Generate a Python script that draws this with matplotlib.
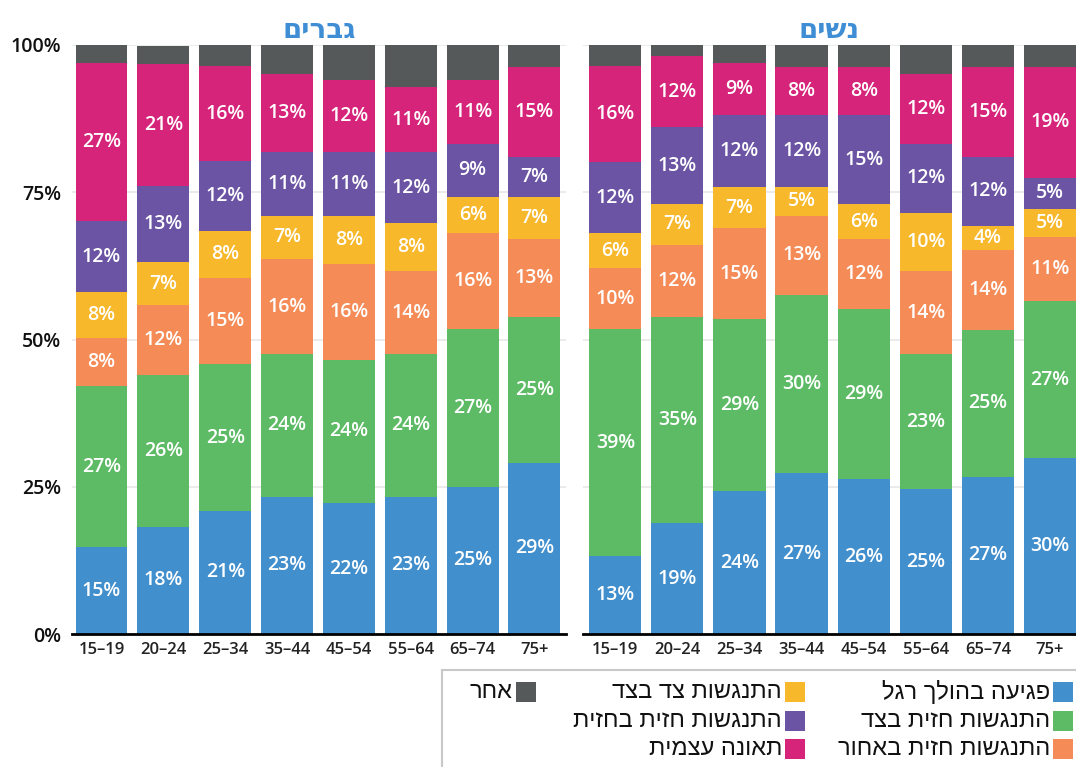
import numpy as np
import matplotlib
matplotlib.use("Agg")
import matplotlib.pyplot as plt
from matplotlib.patches import Rectangle

plt.rcParams.update({
    'font.family': ['Open Sans', 'DejaVu Sans'],
    'axes.edgecolor': 'black',
})

# ---------------------------------------------------------------
# data (percent)
# ---------------------------------------------------------------
ages = ['15–19', '20–24', '25–34', '35–44', '45–54', '55–64', '65–74', '75+']

series_names = ['פגיעה בהולך רגל', 'התנגשות חזית בצד', 'התנגשות חזית באחור',
                'התנגשות צד בצד', 'התנגשות חזית בחזית', 'תאונה עצמית', 'אחר']
colors = ['#428fcd', '#5dbb65', '#f58c57', '#f8b82b', '#6a54a3', '#d5247a', '#56595a']

men_pedestrian = [14.7, 18.2, 20.9, 23.3, 22.2, 23.3, 25.0, 29.1]
men_front_side = [27.4, 25.8, 24.9, 24.2, 24.4, 24.2, 26.7, 24.8]
men_front_rear = [8.2, 11.8, 14.6, 16.2, 16.3, 14.1, 16.3, 13.1]
men_side_side  = [7.7, 7.4, 8.1, 7.3, 8.1, 8.1, 6.2, 7.2]
men_head_on    = [12.1, 12.8, 11.8, 10.9, 10.9, 12.2, 9.0, 6.8]
men_single     = [26.8, 20.8, 16.1, 13.1, 12.2, 10.9, 10.9, 15.3]
men_other      = [3.1, 3.1, 3.7, 5.0, 5.9, 7.2, 5.9, 3.7]

women_pedestrian = [13.2, 18.8, 24.2, 27.3, 26.3, 24.6, 26.7, 29.9]
women_front_side = [38.6, 35.1, 29.3, 30.3, 28.9, 22.9, 24.9, 26.6]
women_front_rear = [10.3, 12.2, 15.4, 13.4, 11.8, 14.1, 13.6, 10.9]
women_side_side  = [6.0, 6.9, 7.0, 4.9, 6.0, 9.9, 4.1, 4.7]
women_head_on    = [12.0, 13.0, 12.2, 12.2, 15.1, 11.7, 11.7, 5.4]
women_single     = [16.3, 12.2, 8.8, 8.2, 8.2, 11.8, 15.3, 18.8]
women_other      = [3.7, 1.8, 3.1, 3.7, 3.7, 5.0, 3.7, 3.7]

men = [men_pedestrian, men_front_side, men_front_rear, men_side_side,
       men_head_on, men_single, men_other]
women = [women_pedestrian, women_front_side, women_front_rear, women_side_side,
         women_head_on, women_single, women_other]

title_men = 'גברים'
title_women = 'נשים'


def heb(s):
    # matplotlib has no bidi support: reverse pure-Hebrew strings
    return s[::-1]


W, H = 1076, 767
fig = plt.figure(figsize=(W / 100, H / 100), dpi=100)


def fx(px):
    return px / W


def fy(py):
    return 1 - py / H


def draw_panel(ax, data, title, show_y):
    x = np.arange(len(ages))
    bottom = np.zeros(len(ages))
    for k, vals in enumerate(data):
        vals = np.array(vals)
        ax.bar(x, vals, 0.84, bottom=bottom, color=colors[k], zorder=2)
        if k < 6:
            for xi, b, v in zip(x, bottom, vals):
                ax.text(xi, b + v / 2, f"{int(round(v))}%", ha='center', va='center',
                        color='white', fontsize=14, fontweight='semibold', zorder=3)
        bottom += vals
    ax.set_ylim(0, 100)
    ax.set_yticks([0, 25, 50, 75, 100])
    ax.yaxis.grid(True, color='#e8e8e8', linewidth=1.2, zorder=0)
    ax.set_axisbelow(True)
    ax.set_xticks(x)
    ax.set_xticklabels(ages, fontsize=12, fontweight='semibold', color='#222222')
    ax.tick_params(axis='x', length=0, pad=6)
    if show_y:
        ax.set_yticklabels(['0%', '25%', '50%', '75%', '100%'], fontsize=14,
                           fontweight='semibold', color='#111111')
        ax.tick_params(axis='y', length=0, pad=8)
    else:
        ax.tick_params(axis='y', length=0, labelleft=False)
    for s in ['left', 'right', 'top']:
        ax.spines[s].set_visible(False)
    ax.spines['bottom'].set_linewidth(2)
    ax.spines['bottom'].set_zorder(4)
    ax.set_title(heb(title), color='#3f8ed5', fontsize=20, fontweight='bold',
                 family=['DejaVu Sans'], pad=5)


ax1 = fig.add_axes([fx(72), fy(634), fx(566 - 72), (634 - 45) / H])
ax1.set_xlim(-0.477, 7.51)
draw_panel(ax1, men, title_men, True)

ax2 = fig.add_axes([fx(583), fy(634), fx(1076 - 583), (634 - 45) / H])
ax2.set_xlim(-0.52, 7.42)
draw_panel(ax2, women, title_women, False)

# legend box (RTL, swatch on the right of each label)
fig.add_artist(Rectangle((fx(442), fy(767) - 0.01), fx(640), fy(670) - fy(767) + 0.01,
                         transform=fig.transFigure, facecolor='none',
                         edgecolor='#c8c8c8', linewidth=1.5))
col_sq = [1053, 785, 516]
row_y = [692, 721, 749]
layout = [(0, 0), (0, 1), (0, 2), (1, 0), (1, 1), (1, 2), (2, 0)]
sq = 20
for k, (c, r) in enumerate(layout):
    x0, yc = col_sq[c], row_y[r]
    fig.add_artist(Rectangle((fx(x0), fy(yc + sq / 2)), fx(sq), sq / H,
                             transform=fig.transFigure, facecolor=colors[k],
                             edgecolor='none'))
    fig.text(fx(x0 - 3), fy(yc), heb(series_names[k]), ha='right', va='center',
             fontsize=17, family=['Liberation Sans', 'DejaVu Sans'], color='#111111')

fig.savefig('out.png', dpi=100)
